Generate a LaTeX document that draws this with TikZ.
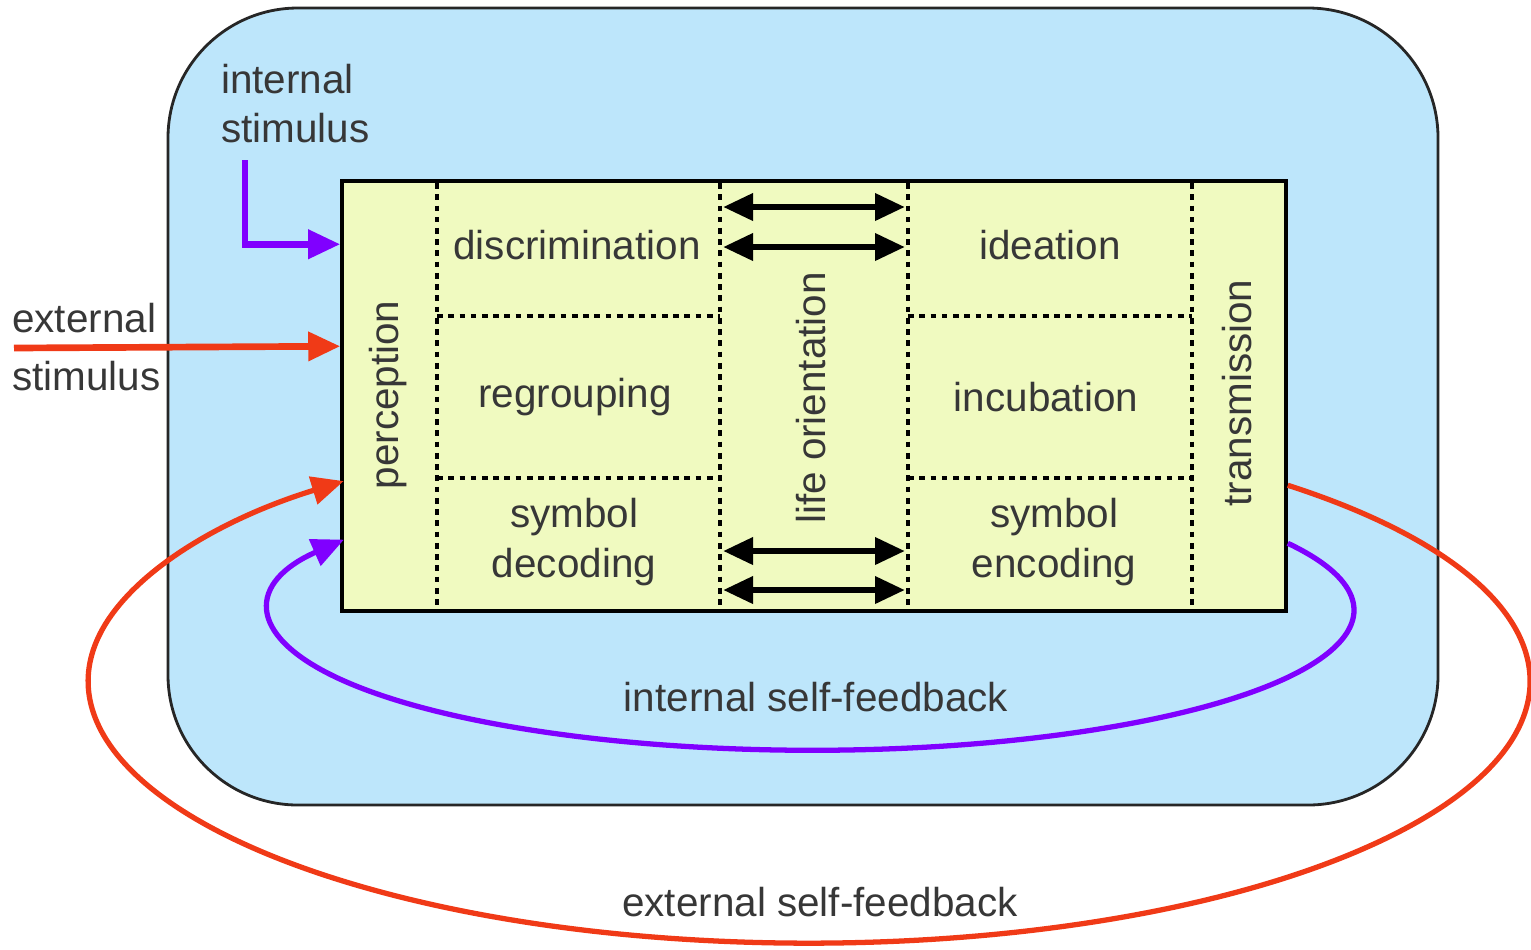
\documentclass[tikz,border=0pt]{standalone}
\usepackage{fontspec}
\setmainfont{Liberation Sans}
\usetikzlibrary{arrows.meta, positioning, calc}
\definecolor{mindblue}{RGB}{189, 230, 251}
\definecolor{coreyellow}{RGB}{240, 250, 192}
\definecolor{stimred}{RGB}{240, 58, 23}
\definecolor{stimpurple}{RGB}{128, 0, 255}
\definecolor{labelgray}{RGB}{55, 55, 55}
\tikzset{
    cell/.style={font=\fontsize{11.5}{14}\selectfont, text=labelgray, align=center, inner sep=1pt},
    divider/.style={draw=black, line width=0.9pt, dash pattern=on 1.6pt off 1.6pt},
    tip/.style={-{Triangle[length=0.32cm, width=0.28cm]}},
    redarrow/.style={tip, draw=stimred, line width=1.5pt},
    purplearrow/.style={tip, draw=stimpurple, line width=1.5pt},
    stimarrow/.style={line width=1.9pt},
    twoway/.style={{Triangle[length=0.3cm, width=0.26cm]}-{Triangle[length=0.3cm, width=0.26cm]}, line width=1.9pt, black}
}
\begin{document}
\begin{tikzpicture}
    \useasboundingbox (0,0) rectangle (15.31,-9.49);

    % Outer box and core box
    \node[draw=black!85, fill=mindblue, line width=0.8pt, rounded corners=1.3cm, minimum width=12.7cm, minimum height=7.97cm] (mind) at (8.03,-4.065) {};
    \node[draw=black, fill=coreyellow, line width=1pt, minimum width=9.44cm, minimum height=4.30cm, inner sep=0pt] (core) at (8.14,-3.96) {};

    % Dotted dividers
    \foreach \x in {4.37, 7.20, 9.08, 11.92}
        \draw[divider] (\x,-1.83) -- (\x,-6.09);
    \foreach \y in {3.16, 4.78} {
        \draw[divider] (4.37,-\y) -- (7.20,-\y);
        \draw[divider] (9.08,-\y) -- (11.92,-\y);
    }

    % Cells
    \node[cell, rotate=90] (percep) at (3.88,-3.95) {perception};
    \node[cell] (discr) at (5.77,-2.45) {discrimination};
    \node[cell] (regroup) at (5.75,-3.97) {regrouping};
    \node[cell] (decode) at (5.74,-5.42) {symbol\\decoding};
    \node[cell, rotate=90] (life) at (8.11,-3.98) {life orientation};
    \node[cell] (ideat) at (10.50,-2.45) {ideation};
    \node[cell] (incub) at (10.46,-3.97) {incubation};
    \node[cell] (encode) at (10.54,-5.42) {symbol\\encoding};
    \node[cell, rotate=90] (trans) at (12.37,-3.93) {transmission};

    % Double arrows across life orientation
    \foreach \y/\n in {2.07/a, 2.47/b, 5.51/c, 5.90/d} {
        \coordinate (lol\n) at (7.23,-\y);
        \coordinate (lor\n) at (9.05,-\y);
        \draw[twoway] (lol\n) -- (lor\n);
    }

    % Stimuli
    \node[cell, align=left, anchor=north west] (intstim) at (2.17,-0.60) {internal\\stimulus};
    \coordinate (intsrc) at (2.45,-1.60);
    \coordinate (intin) at ($(core.north west)+(0,-0.65)$);
    \draw[purplearrow, stimarrow] (intsrc) |- (intin);

    \node[cell, align=left, anchor=west] (extstim) at (0.08,-3.47) {external\\[0.08cm]stimulus};
    \coordinate (extsrc) at (0.14,-3.48);
    \coordinate (extin) at ($(core.north west)+(0,-1.67)$);
    \draw[redarrow, stimarrow] (extsrc) -- (extin);

    % Feedback loops
    \coordinate (intout) at ($(core.north east)+(0,-3.64)$);
    \draw[purplearrow] (intout) arc[start angle=28.6, end angle=-210.3, x radius=5.42cm, y radius=1.40cm];
    \node[cell] (intfb) at (8.16,-6.97) {internal self-feedback};

    \coordinate (extout) at ($(core.north east)+(0,-3.06)$);
    \draw[redarrow] (extout) arc[start angle=48.4, end angle=-229.8, x radius=7.21cm, y radius=2.62cm];
    \node[cell] (extfb) at (8.20,-9.02) {external self-feedback};

\end{tikzpicture}
\end{document}
